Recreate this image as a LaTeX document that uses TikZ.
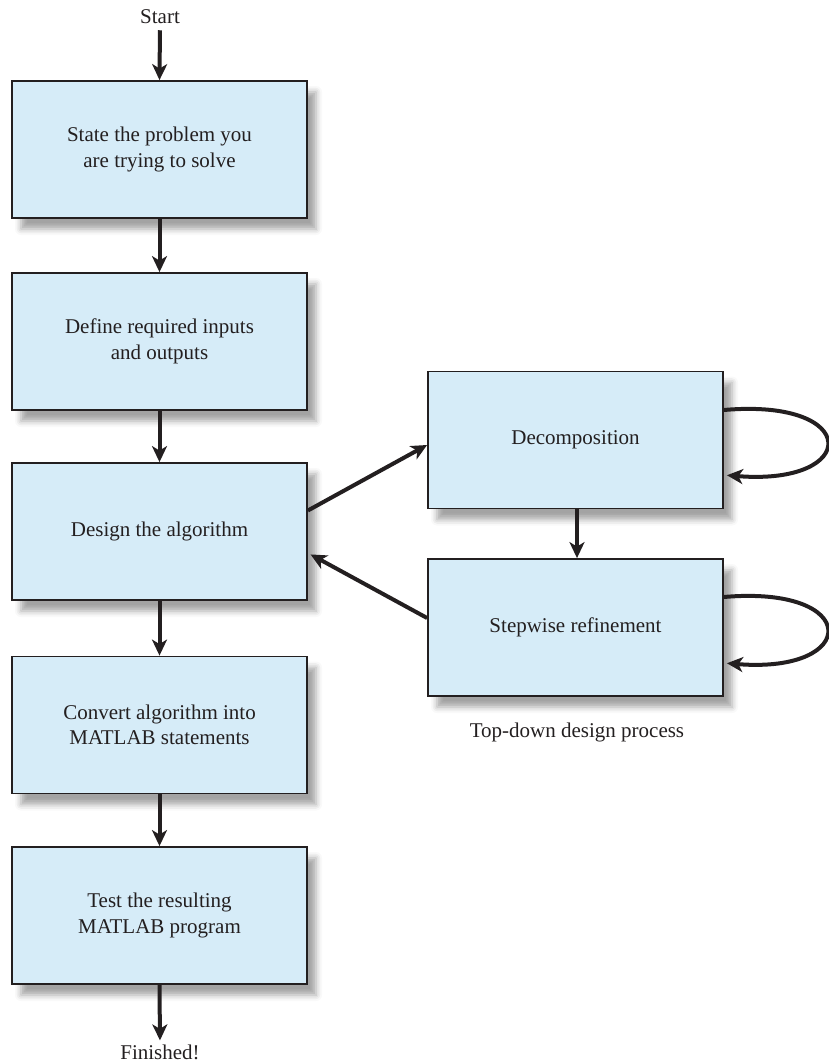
\documentclass[tikz,border=0pt]{standalone}
\usepackage{fontspec}
\setmainfont{Liberation Serif}
\usetikzlibrary{arrows.meta,shadows.blur,calc}
\definecolor{boxfill}{HTML}{D6ECF8}
\definecolor{ink}{HTML}{231F20}
\begin{document}
\begin{tikzpicture}[x=1pt,y=-1pt,
  every node/.style={text=ink,font=\fontsize{21}{25.5}\selectfont},
  stepbox/.style={draw=ink,line width=1.8pt,fill=boxfill,
    minimum width=295pt,minimum height=137pt,inner sep=0pt,align=center,
    blur shadow={shadow xshift=9pt,shadow yshift=-11pt,
      shadow blur radius=6pt,shadow opacity=36}},
  flow/.style={draw=ink,line width=4pt,
    -{Stealth[length=16pt,width=15pt,inset=4.5pt]}},
  label/.style={inner sep=0pt}]
\useasboundingbox (0,0) rectangle (829,1063);

% main column
\node[label] (start) at (160,17) {Start};
\node[stepbox] (state)  at (159.5,149.5) {State the problem you\\are trying to solve};
\node[stepbox] (inout)  at (159.5,341.5) {Define required inputs\\and outputs};
\node[stepbox] (design) at (159.5,531.5) {Design the algorithm};
\node[stepbox] (conv)   at (159.5,725)   {Convert algorithm into\\MATLAB statements};
\node[stepbox] (test)   at (159.5,915.5) {Test the resulting\\MATLAB program};
\node[label] (fin) at (160,1052) {Finished!};

% top-down design process
\node[stepbox] (decomp) at (575.5,440)   {Decomposition};
\node[stepbox] (refine) at (575.5,627.5) {Stepwise refinement};
\node[label] (caption) at (577,732) {Top-down design process};

% main flow
\draw[flow,shorten <=6pt] (start.south) -- (state.north);
\draw[flow] (state.south) -- (inout.north);
\draw[flow] (inout.south) -- (design.north);
\draw[flow] (design.south) -- (conv.north);
\draw[flow] (conv.south) -- (test.north);
\draw[flow,shorten >=4pt] (test.south) -- (fin.north);

% links to the design process
\draw[flow] ([yshift=21pt]design.east) -- ([yshift=-5pt]decomp.west);
\draw[flow,shorten >=3pt] ([yshift=9.5pt]refine.west) -- ([yshift=-21.5pt]design.east);
\draw[flow] ([xshift=1.5pt]decomp.south) -- ([xshift=1.5pt]refine.north);

% self loops
\coordinate (d1) at ([yshift=30pt]decomp.east);
\coordinate (d2) at ([yshift=-35pt]decomp.east);
\coordinate (r1) at ([yshift=30.5pt]refine.east);
\coordinate (r2) at ([yshift=-35.5pt]refine.east);
\draw[flow,shorten >=3pt] (d1) .. controls +(138,-12) and +(136,11) .. (d2);
\draw[flow,shorten >=3pt] (r1) .. controls +(138,-12) and +(136,11) .. (r2);
\end{tikzpicture}
\end{document}
